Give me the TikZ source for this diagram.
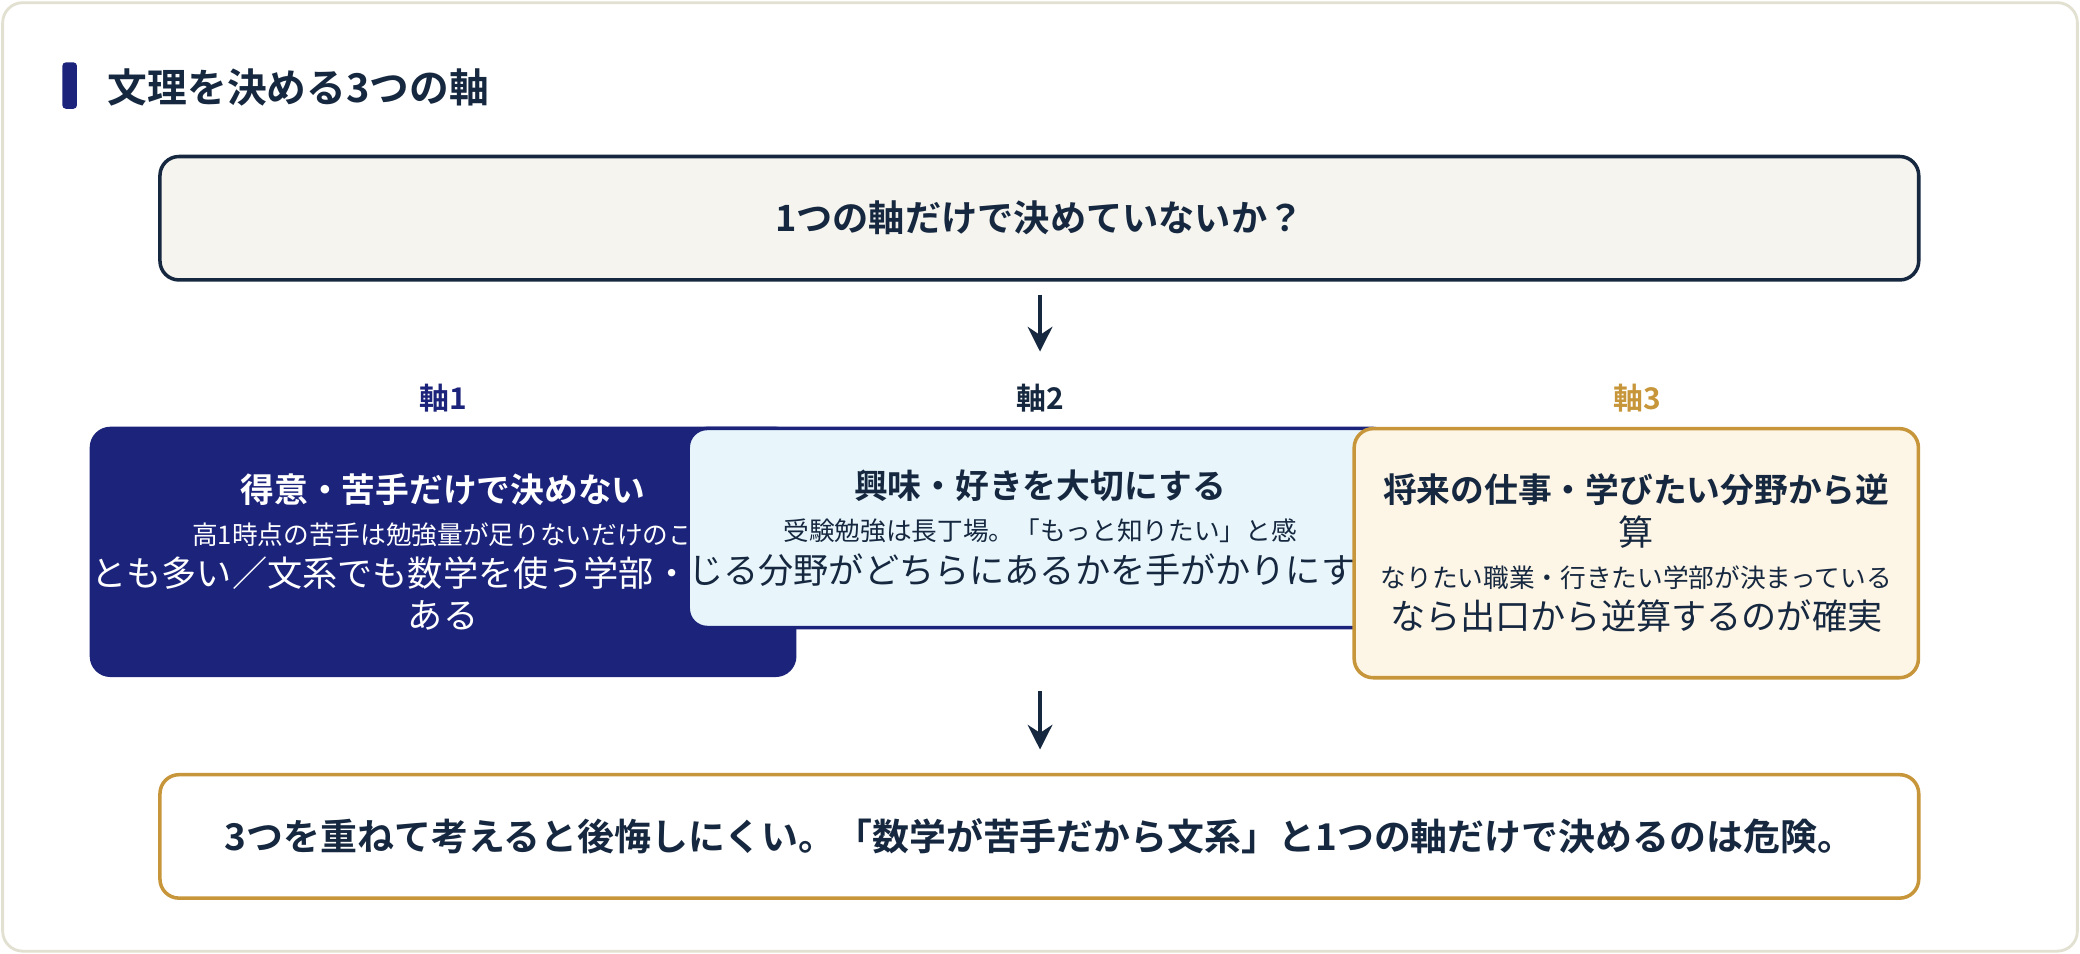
\documentclass[tikz,border=0pt]{standalone}
\usepackage{fontspec}
\setmainfont{Noto Sans CJK JP}[BoldFont=* Bold]
\usetikzlibrary{positioning,arrows.meta}
\definecolor{navy}{HTML}{1B237A}
\definecolor{ink}{HTML}{16283F}
\definecolor{gold}{HTML}{C8963A}
\definecolor{paleblue}{HTML}{E8F6FC}
\definecolor{cream}{HTML}{FDF5E6}
\definecolor{ivory}{HTML}{F5F4EF}
\definecolor{frame}{HTML}{E2E0D0}
\tikzset{
  box/.style={draw, line width=1pt, rounded corners=0.19cm, align=center, inner sep=0pt},
  axislabel/.style={font=\fontsize{8.5}{10}\selectfont\bfseries},
  arrow/.style={-{Stealth[length=7pt,width=7pt]}, line width=1.2pt, draw=ink}
}
\newcommand{\headsize}{\fontsize{9.6}{14}\selectfont\bfseries}
\newcommand{\bodysize}{\fontsize{7.3}{13.7}\selectfont\mdseries}
\begin{document}
\begin{tikzpicture}[x=0.013265cm, y=-0.013265cm]
\useasboundingbox (0,0) rectangle (1568,719);
\draw[frame, line width=0.8pt, rounded corners=0.2cm, fill=white] (2,2) rectangle (1566,717);

% Title
\fill[navy, rounded corners=1pt] (47,47) rectangle (58,82);
\node[anchor=west, text=ink, font=\fontsize{11.3}{13}\selectfont\bfseries] (title) at (72,66) {文理を決める3つの軸};

% Question
\node[box, draw=ink, fill=ivory, text=ink, minimum width=17.58cm, minimum height=1.234cm,
  font=\fontsize{10.3}{12}\selectfont\bfseries] (question) at (783.5,164.5) {1つの軸だけで決めていないか？};

\coordinate (q1) at (784,222);
\coordinate (q2) at (784,265);
\draw[arrow] (q1) -- (q2);

% Three axes
\node[axislabel, text=navy] (lab1) at (334,300) {軸1};
\node[axislabel, text=ink] (lab2) at (784,300) {軸2};
\node[axislabel, text=gold] (lab3) at (1234,300) {軸3};

\node[box, draw=navy, fill=navy, text=white, minimum width=5.65cm, minimum height=2.467cm] (axis1) at (334,416)
  {\headsize 得意・苦手だけで決めない\\
   \bodysize 高1時点の苦手は勉強量が足りないだけのこ\\とも多い／文系でも数学を使う学部・入試が\\ある};
\node[box, draw=navy, fill=paleblue, text=ink, minimum width=5.62cm, minimum height=1.99cm] (axis2) at (784,398)
  {\headsize 興味・好きを大切にする\\
   \bodysize 受験勉強は長丁場。「もっと知りたい」と感\\じる分野がどちらにあるかを手がかりにする};
\node[box, draw=gold, fill=cream, text=ink, minimum width=5.64cm, minimum height=2.49cm] (axis3) at (1233.5,417)
  {\headsize 将来の仕事・学びたい分野から逆\\算\\
   \bodysize なりたい職業・行きたい学部が決まっている\\なら出口から逆算するのが確実};

\coordinate (m1) at (784,521);
\coordinate (m2) at (784,565);
\draw[arrow] (m1) -- (m2);

% Conclusion
\node[box, draw=gold, fill=white, text=ink, minimum width=17.58cm, minimum height=1.234cm,
  font=\fontsize{10.5}{12}\selectfont\bfseries] (result) at (783.5,630.5)
  {3つを重ねて考えると後悔しにくい。「数学が苦手だから文系」と1つの軸だけで決めるのは危険。};
\end{tikzpicture}
\end{document}
